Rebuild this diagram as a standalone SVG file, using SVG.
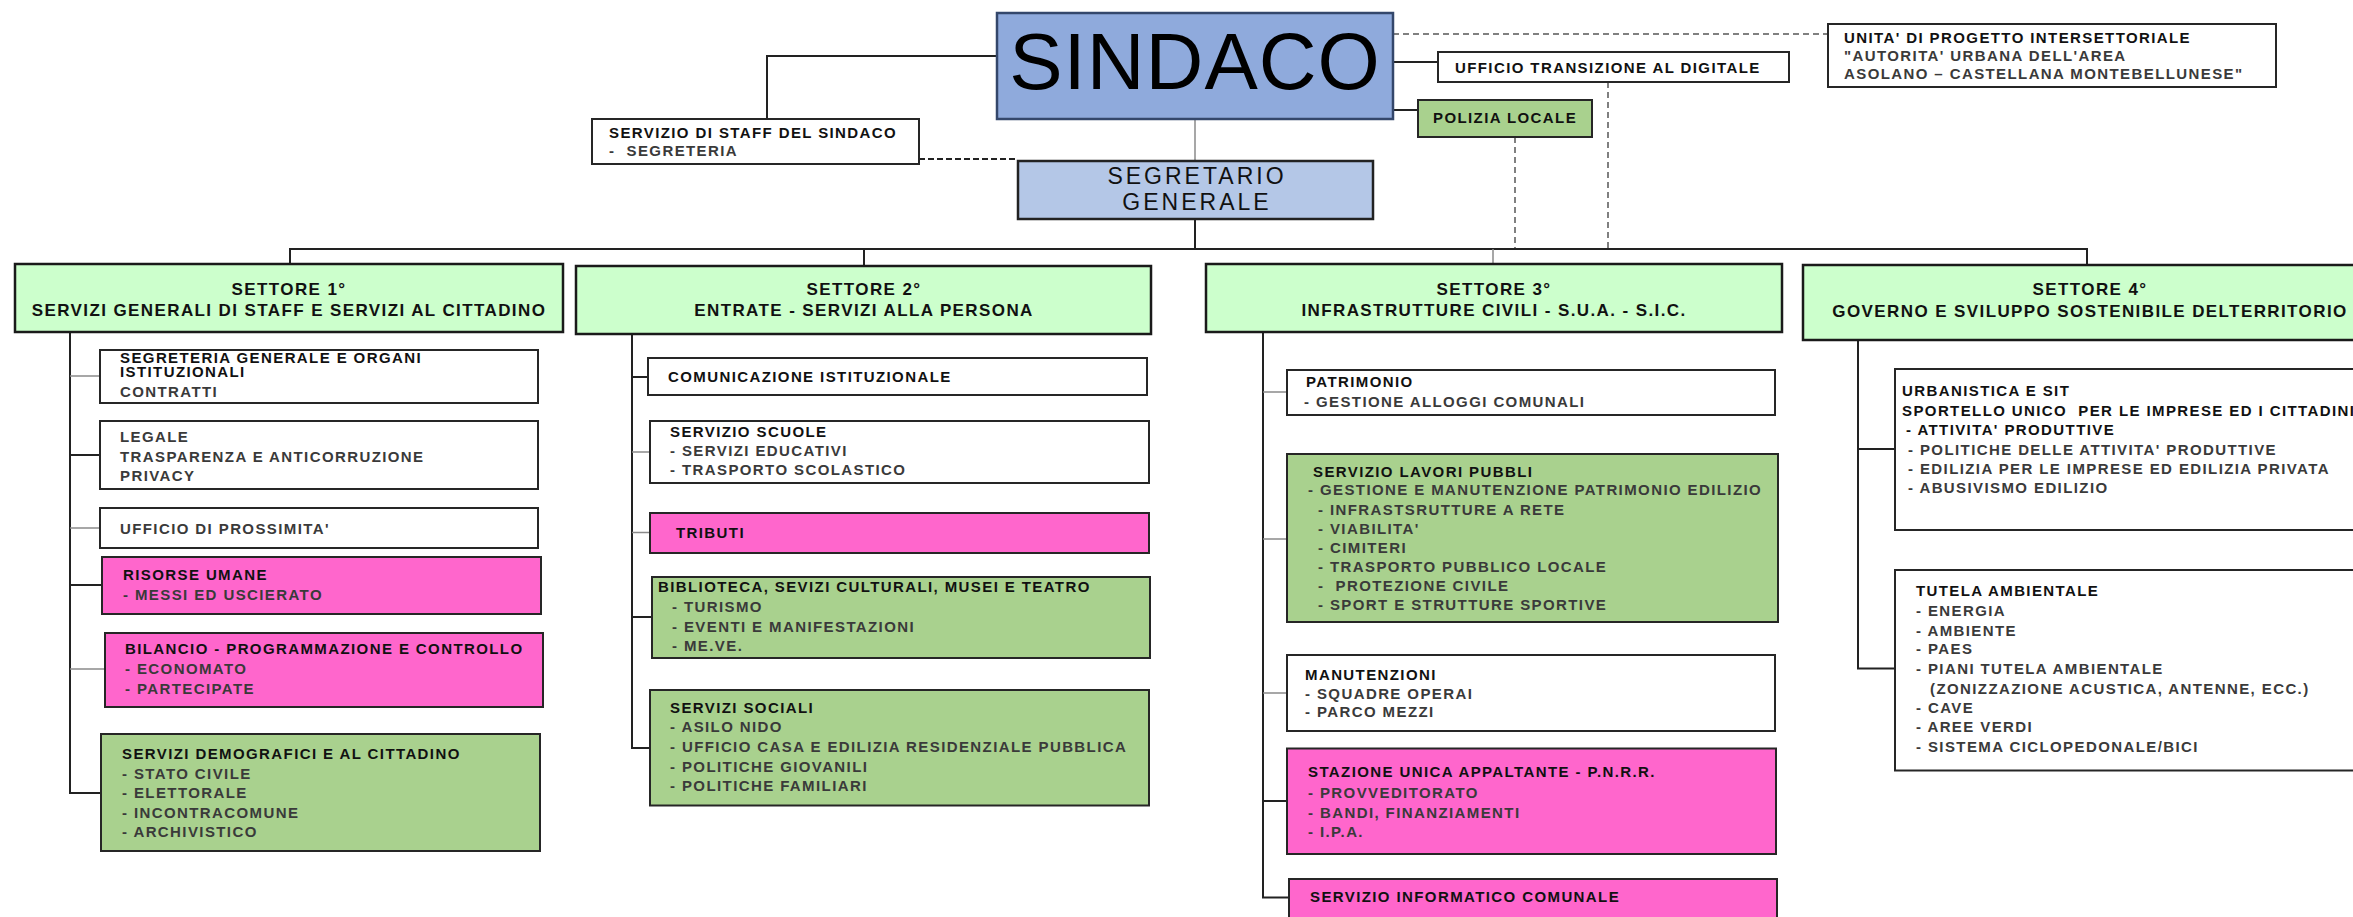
<svg xmlns="http://www.w3.org/2000/svg" width="2353" height="917" viewBox="0 0 2353 917">
<style>
.box{stroke:#262626;stroke-width:2}
.w{fill:#ffffff}
.pk{fill:#FF66CC}
.gr{fill:#A9D18E}
.st{fill:#CCFFCC;stroke:#1a1a1a;stroke-width:2.5}
text{font-family:"Liberation Sans",Arial,sans-serif;font-weight:bold;font-size:15px;letter-spacing:1.4px}
.t{fill:#111111}
.i{fill:#3a3a3a}
.h{font-size:17px;text-anchor:middle;fill:#111111}
.sg{font-size:23px;font-weight:normal;letter-spacing:3px;text-anchor:middle;fill:#111111}
.ln{stroke:#222222;stroke-width:2;fill:none}
.lg{stroke:#8a8a8a;stroke-width:1.5;fill:none}
.dg{stroke:#808080;stroke-width:2;stroke-dasharray:6 4;fill:none}
.dk{stroke:#222222;stroke-width:2;stroke-dasharray:6 3;fill:none}
</style>
<rect width="2353" height="917" fill="#ffffff"/>

<g id="connectors">
  <polyline class="ln" points="997,56 767,56 767,119"/>
  <line class="ln" x1="1393" y1="62" x2="1438" y2="62"/>
  <line class="ln" x1="1393" y1="110" x2="1418" y2="110"/>
  <line class="dg" x1="1393" y1="34" x2="1828" y2="34"/>
  <line class="lg" x1="1195" y1="119" x2="1195" y2="161"/>
  <line class="dk" x1="919" y1="159" x2="1018" y2="159"/>
  <line class="ln" x1="1195" y1="219" x2="1195" y2="249"/>
  <line class="dg" x1="1515" y1="137" x2="1515" y2="249"/>
  <line class="dg" x1="1608" y1="82" x2="1608" y2="249"/>
  <line class="ln" x1="289" y1="249" x2="2088" y2="249"/>
  <line class="ln" x1="290" y1="249" x2="290" y2="264"/>
  <line class="ln" x1="864" y1="249" x2="864" y2="266"/>
  <line class="lg" x1="1493" y1="249" x2="1493" y2="264"/>
  <line class="ln" x1="2087" y1="249" x2="2087" y2="265"/>
  <!-- settore 1 -->
  <polyline class="ln" points="70,332 70,793 101,793"/>
  <line class="lg" x1="70" y1="376" x2="100" y2="376"/>
  <line class="ln" x1="70" y1="455" x2="100" y2="455"/>
  <line class="lg" x1="70" y1="528" x2="100" y2="528"/>
  <line class="ln" x1="70" y1="585" x2="102" y2="585"/>
  <line class="lg" x1="70" y1="669" x2="105" y2="669"/>
  <!-- settore 2 -->
  <polyline class="ln" points="632,334 632,748 650,748"/>
  <line class="ln" x1="632" y1="377" x2="648" y2="377"/>
  <line class="lg" x1="632" y1="452" x2="650" y2="452"/>
  <line class="lg" x1="632" y1="532.5" x2="650" y2="532.5"/>
  <line class="ln" x1="632" y1="617" x2="652" y2="617"/>
  <!-- settore 3 -->
  <polyline class="ln" points="1263,332 1263,897.5 1289,897.5"/>
  <line class="lg" x1="1263" y1="392" x2="1287" y2="392"/>
  <line class="lg" x1="1263" y1="539" x2="1287" y2="539"/>
  <line class="lg" x1="1263" y1="693" x2="1287" y2="693"/>
  <line class="ln" x1="1263" y1="801" x2="1287" y2="801"/>
  <!-- settore 4 -->
  <polyline class="ln" points="1858,340 1858,668.6 1895,668.6"/>
  <line class="ln" x1="1858" y1="449" x2="1895" y2="449"/>
</g>

<g id="sindaco">
  <rect x="997" y="13" width="396" height="106" fill="#8FAADC" stroke="#34476b" stroke-width="2.5"/>
  <text x="1195" y="89" text-anchor="middle" style="font-size:80px;font-weight:normal;letter-spacing:1px" fill="#000">SINDACO</text>
</g>

<g id="staff">
  <rect class="box w" x="592" y="119" width="327" height="45"/>
  <text class="t" x="609" y="138">SERVIZIO DI STAFF DEL SINDACO</text>
  <text class="i" x="609" y="156" xml:space="preserve">-  SEGRETERIA</text>
</g>

<g id="segretario">
  <rect x="1018" y="161" width="355" height="58" fill="#B4C7E7" stroke="#222" stroke-width="2.5"/>
  <text class="sg" x="1197" y="184">SEGRETARIO</text>
  <text class="sg" x="1197" y="210">GENERALE</text>
</g>

<g id="ufficio-digitale">
  <rect class="box w" x="1438" y="52" width="351" height="30"/>
  <text class="t" x="1455" y="73">UFFICIO TRANSIZIONE AL DIGITALE</text>
</g>

<g id="polizia">
  <rect class="box gr" x="1418" y="100" width="174" height="37"/>
  <text class="t" x="1433" y="123">POLIZIA LOCALE</text>
</g>

<g id="unita">
  <rect class="box w" x="1828" y="24" width="448" height="63"/>
  <text class="t" x="1844" y="43">UNITA' DI PROGETTO INTERSETTORIALE</text>
  <text class="i" x="1844" y="61">"AUTORITA' URBANA DELL'AREA</text>
  <text class="i" x="1844" y="79">ASOLANO – CASTELLANA MONTEBELLUNESE"</text>
</g>

<g id="settore1">
  <rect class="st" x="15" y="264" width="548" height="68"/>
  <text class="h" x="289" y="295">SETTORE 1°</text>
  <text class="h" x="289" y="316">SERVIZI GENERALI DI STAFF E SERVIZI AL CITTADINO</text>
</g>
<g id="settore2">
  <rect class="st" x="576" y="266" width="575" height="68"/>
  <text class="h" x="864" y="295">SETTORE 2°</text>
  <text class="h" x="864" y="316">ENTRATE - SERVIZI ALLA PERSONA</text>
</g>
<g id="settore3">
  <rect class="st" x="1206" y="264" width="576" height="68"/>
  <text class="h" x="1494" y="295">SETTORE 3°</text>
  <text class="h" x="1494" y="316">INFRASTRUTTURE CIVILI - S.U.A. - S.I.C.</text>
</g>
<g id="settore4">
  <rect class="st" x="1803" y="265" width="580" height="75"/>
  <text class="h" x="2090" y="295">SETTORE 4°</text>
  <text class="h" x="2090" y="317">GOVERNO E SVILUPPO SOSTENIBILE DELTERRITORIO</text>
</g>

<!-- Settore 1 children -->
<g id="s1-segreteria">
  <rect class="box w" x="100" y="350" width="438" height="53"/>
  <text class="t" x="120" y="363">SEGRETERIA GENERALE E ORGANI</text>
  <text class="t" x="120" y="377">ISTITUZIONALI</text>
  <text class="i" x="120" y="397">CONTRATTI</text>
</g>
<g id="s1-legale">
  <rect class="box w" x="100" y="421" width="438" height="68"/>
  <text class="i" x="120" y="441.5">LEGALE</text>
  <text class="i" x="120" y="461.5">TRASPARENZA E ANTICORRUZIONE</text>
  <text class="i" x="120" y="480.5">PRIVACY</text>
</g>
<g id="s1-prossimita">
  <rect class="box w" x="100" y="508" width="438" height="40"/>
  <text class="i" x="120" y="533.5">UFFICIO DI PROSSIMITA'</text>
</g>
<g id="s1-risorse">
  <rect class="box pk" x="102" y="557" width="439" height="57"/>
  <text class="t" x="123" y="579.5">RISORSE UMANE</text>
  <text class="i" x="123" y="599.5">- MESSI ED USCIERATO</text>
</g>
<g id="s1-bilancio">
  <rect class="box pk" x="105" y="633" width="438" height="74"/>
  <text class="t" x="125" y="653.5">BILANCIO - PROGRAMMAZIONE E CONTROLLO</text>
  <text class="i" x="125" y="673.5">- ECONOMATO</text>
  <text class="i" x="125" y="693.5">- PARTECIPATE</text>
</g>
<g id="s1-demografici">
  <rect class="box gr" x="101" y="734" width="439" height="117"/>
  <text class="t" x="122" y="758.5">SERVIZI DEMOGRAFICI E AL CITTADINO</text>
  <text class="i" x="122" y="778.5">- STATO CIVILE</text>
  <text class="i" x="122" y="797.5">- ELETTORALE</text>
  <text class="i" x="122" y="817.5">- INCONTRACOMUNE</text>
  <text class="i" x="122" y="836.5">- ARCHIVISTICO</text>
</g>

<!-- Settore 2 children -->
<g id="s2-comunicazione">
  <rect class="box w" x="648" y="358" width="499" height="37"/>
  <text class="t" x="668" y="381.5">COMUNICAZIONE ISTITUZIONALE</text>
</g>
<g id="s2-scuole">
  <rect class="box w" x="650" y="421" width="499" height="62"/>
  <text class="t" x="670" y="436.5">SERVIZIO SCUOLE</text>
  <text class="i" x="670" y="455.5">- SERVIZI EDUCATIVI</text>
  <text class="i" x="670" y="475">- TRASPORTO SCOLASTICO</text>
</g>
<g id="s2-tributi">
  <rect class="box pk" x="650" y="513" width="499" height="40"/>
  <text class="t" x="676" y="537.5">TRIBUTI</text>
</g>
<g id="s2-biblioteca">
  <rect class="box gr" x="652" y="577" width="498" height="81"/>
  <text class="t" x="658" y="592">BIBLIOTECA, SEVIZI CULTURALI, MUSEI E TEATRO</text>
  <text class="i" x="672" y="611.5">- TURISMO</text>
  <text class="i" x="672" y="631.5">- EVENTI E MANIFESTAZIONI</text>
  <text class="i" x="672" y="650.5">- ME.VE.</text>
</g>
<g id="s2-sociali">
  <rect class="box gr" x="650" y="690" width="499" height="115.5"/>
  <text class="t" x="670" y="712.5">SERVIZI SOCIALI</text>
  <text class="i" x="670" y="731.5">- ASILO NIDO</text>
  <text class="i" x="670" y="751.5">- UFFICIO CASA E EDILIZIA RESIDENZIALE PUBBLICA</text>
  <text class="i" x="670" y="771.5">- POLITICHE GIOVANILI</text>
  <text class="i" x="670" y="790.5">- POLITICHE FAMILIARI</text>
</g>

<!-- Settore 3 children -->
<g id="s3-patrimonio">
  <rect class="box w" x="1287" y="370" width="488" height="45"/>
  <text class="t" x="1306" y="386.5">PATRIMONIO</text>
  <text class="i" x="1304" y="406.5">- GESTIONE ALLOGGI COMUNALI</text>
</g>
<g id="s3-lavori">
  <rect class="box gr" x="1287" y="454" width="491" height="168"/>
  <text class="t" x="1313" y="476.5">SERVIZIO LAVORI PUBBLI</text>
  <text class="i" x="1308" y="494.5">- GESTIONE E MANUTENZIONE PATRIMONIO EDILIZIO</text>
  <text class="i" x="1318" y="514.5">- INFRASTSRUTTURE A RETE</text>
  <text class="i" x="1318" y="533.5">- VIABILITA'</text>
  <text class="i" x="1318" y="552.5">- CIMITERI</text>
  <text class="i" x="1318" y="571.5">- TRASPORTO PUBBLICO LOCALE</text>
  <text class="i" x="1318" y="590.5" xml:space="preserve">-  PROTEZIONE CIVILE</text>
  <text class="i" x="1318" y="609.5">- SPORT E STRUTTURE SPORTIVE</text>
</g>
<g id="s3-manutenzioni">
  <rect class="box w" x="1287" y="655" width="488" height="76"/>
  <text class="t" x="1305" y="679.5">MANUTENZIONI</text>
  <text class="i" x="1305" y="698.5">- SQUADRE OPERAI</text>
  <text class="i" x="1305" y="716.5">- PARCO MEZZI</text>
</g>
<g id="s3-sua">
  <rect class="box pk" x="1287" y="748.5" width="489" height="105.5"/>
  <text class="t" x="1308" y="776.5">STAZIONE UNICA APPALTANTE - P.N.R.R.</text>
  <text class="i" x="1308" y="797.5">- PROVVEDITORATO</text>
  <text class="i" x="1308" y="817.5">- BANDI, FINANZIAMENTI</text>
  <text class="i" x="1308" y="836.5">- I.P.A.</text>
</g>
<g id="s3-informatico">
  <rect class="box pk" x="1289" y="879" width="488" height="60"/>
  <text class="t" x="1310" y="901.5">SERVIZIO INFORMATICO COMUNALE</text>
</g>

<!-- Settore 4 children -->
<g id="s4-urbanistica">
  <rect class="box w" x="1895" y="369" width="480" height="161"/>
  <text class="t" x="1902" y="395.5">URBANISTICA E SIT</text>
  <text class="t" x="1902" y="415.5" xml:space="preserve">SPORTELLO UNICO  PER LE IMPRESE ED I CITTADINI</text>
  <text class="t" x="1906" y="434.5">- ATTIVITA' PRODUTTIVE</text>
  <text class="i" x="1908" y="454.5">- POLITICHE DELLE ATTIVITA' PRODUTTIVE</text>
  <text class="i" x="1908" y="473.5">- EDILIZIA PER LE IMPRESE ED EDILIZIA PRIVATA</text>
  <text class="i" x="1908" y="492.5">- ABUSIVISMO EDILIZIO</text>
</g>
<g id="s4-tutela">
  <rect class="box w" x="1895" y="570" width="480" height="200.5"/>
  <text class="t" x="1916" y="595.5">TUTELA AMBIENTALE</text>
  <text class="i" x="1916" y="615.5">- ENERGIA</text>
  <text class="i" x="1916" y="635.5">- AMBIENTE</text>
  <text class="i" x="1916" y="653.5">- PAES</text>
  <text class="i" x="1916" y="673.5">- PIANI TUTELA AMBIENTALE</text>
  <text class="i" x="1930" y="693.5">(ZONIZZAZIONE ACUSTICA, ANTENNE, ECC.)</text>
  <text class="i" x="1916" y="712.5">- CAVE</text>
  <text class="i" x="1916" y="731.5">- AREE VERDI</text>
  <text class="i" x="1916" y="751.5">- SISTEMA CICLOPEDONALE/BICI</text>
</g>
</svg>
